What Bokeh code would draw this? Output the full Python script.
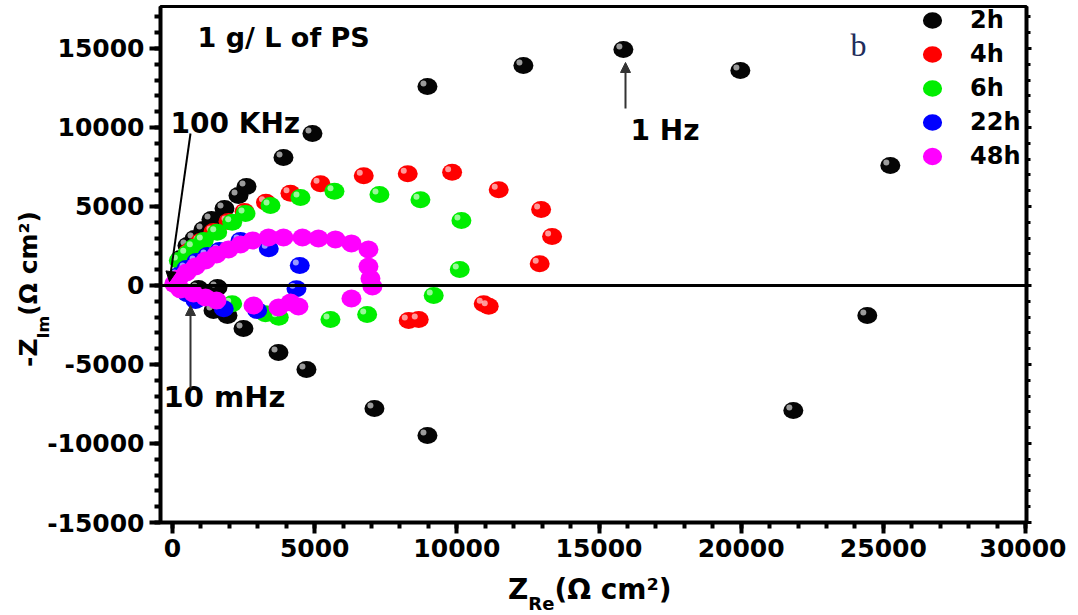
import numpy as np
from bokeh.plotting import figure
from bokeh.layouts import row, column
from bokeh.models import (ColumnDataSource, Span, Label, Arrow, NormalHead, Div,
                          LinearAxis, FixedTicker, Legend, LegendItem, Range1d,
                          NumeralTickFormatter)
from bokeh.transform import dodge
from bokeh.embed import file_html
from bokeh.resources import INLINE

# ---------------- data ----------------
series_names = ["2h", "4h", "6h", "22h", "48h"]
series_colors = ["#050505", "#ff0000", "#00ee00", "#0000ff", "#ff00ff"]

zre_2h = [281, 527, 774, 1090, 1371, 1828, 2321, 2602, 3903, 4922, 8966, 12341,
          15857, 19971, 25245, 24436, 21834, 8966, 7102, 4711, 3727, 2496, 1934,
          1442, 1582, 914]
zim_2h = [1709, 2532, 2975, 3545, 4178, 4874, 5697, 6267, 8102, 9622, 12597, 13926,
          14940, 13610, 7596, -1899, -7913, -9495, -7786, -5317, -4241, -2722, -1899,
          -1583, -127, -190]

zre_4h = [563, 984, 1442, 1969, 2532, 3287, 4149, 5204, 6726, 8273, 9834, 11473,
          12964, 13350, 12914, 11121, 10945, 8660, 8308]
zim_4h = [2152, 2785, 3418, 4051, 4684, 5273, 5843, 6438, 6944, 7071, 7172, 6058,
          4811, 3102, 1374, -1310, -1158, -2152, -2216]

zre_6h = [222, 517, 749, 1100, 1572, 2099, 2567, 3446, 4500, 5696, 7278, 8720,
          10161, 10102, 9187, 6846, 5555, 3738, 3270, 2099]
zim_6h = [1583, 2007, 2424, 2849, 3374, 4007, 4558, 5064, 5570, 5969, 5760, 5425,
          4115, 1013, -633, -1836, -2152, -2007, -1791, -1158]

zre_22h = [211, 492, 844, 1231, 1653, 2391, 3386, 4476, 4360, 2978, 1804, 809, 517]
zim_22h = [633, 1076, 1519, 1899, 2216, 2849, 2323, 1266, -209, -1583, -1475, -950, -525]

zre_48h = [60, 211, 492, 809, 1160, 1547, 1969, 2391, 2813, 3375, 3903, 4571, 5133,
           5731, 6294, 6891, 6891, 6962, 7032, 6294, 4430, 4149, 3727, 2848, 1547,
           1160, 738, 281]
zim_48h = [100, 443, 823, 1203, 1583, 1962, 2279, 2595, 2849, 3038, 3038, 3038, 2975,
           2912, 2659, 2279, 1203, 443, -63, -823, -1329, -1076, -1393, -1266, -950,
           -760, -506, -253]

x_ticks = [0, 5000, 10000, 15000, 20000, 25000, 30000]
y_ticks = [-15000, -10000, -5000, 0, 5000, 10000, 15000]
x_minor = list(range(0, 30001, 1000))
y_minor = list(range(-15000, 17001, 1000))

# annotations (data coordinates)
note_text, note_xy = "1 g/ L of PS", (879, 15696)
panel_letter, panel_xy = "b", (24127, 15190)
hf_text, hf_xy = "100 KHz", (-70, 10253)
hf_arrow = ((633, 9620), (-105, 253))
lf_text, lf_xy = "10 mHz", (-317, -7088)
lf_arrow = ((633, -6519), (633, -1266))
mf_text, mf_xy = "1 Hz", (16108, 9810)
mf_arrow = ((15932, 11203), (15932, 14114))

# axis titles (main text, subscript, unit)
x_title = ("Z", "Re", "(Ω cm²)")
y_title = ("-Z", "Im", "(Ω cm²)")

series = [(zre_2h, zim_2h), (zre_4h, zim_4h), (zre_6h, zim_6h),
          (zre_22h, zim_22h), (zre_48h, zim_48h)]

FONT = "DejaVu Sans"
YDIV_W = 44
BORDER_LEFT = 114
BORDER_BOTTOM = 52
FRAME_W, FRAME_H = 866, 516

# ---------------- figure ----------------
p = figure(frame_width=FRAME_W, frame_height=FRAME_H,
           x_range=Range1d(-422, 30035), y_range=Range1d(-15000, 17658),
           min_border_left=BORDER_LEFT, min_border_top=6, min_border_bottom=BORDER_BOTTOM,
           min_border_right=40, output_backend="svg", toolbar_location=None,
           background_fill_color="white", border_fill_alpha=0)
p.grid.visible = False
p.outline_line_color = "black"
p.outline_line_width = 3

for ax in (p.xaxis[0], p.yaxis[0]):
    ax.axis_line_width = 4
    ax.major_tick_line_width = 4
    ax.minor_tick_line_width = 4
    ax.major_tick_out = 11
    ax.major_tick_in = 0
    ax.minor_tick_out = 6
    ax.minor_tick_in = 0
    ax.major_label_text_font = FONT
    ax.major_label_text_font_style = "bold"
    ax.major_label_text_font_size = "25px"
    ax.major_label_text_color = "black"
    ax.major_label_standoff = 5
    ax.formatter = NumeralTickFormatter(format="0")
p.xaxis[0].ticker = FixedTicker(ticks=x_ticks, minor_ticks=x_minor)
p.yaxis[0].ticker = FixedTicker(ticks=y_ticks, minor_ticks=y_minor)

rax = LinearAxis(ticker=FixedTicker(ticks=y_ticks, minor_ticks=y_minor))
rax.axis_line_width = 4
rax.major_tick_line_width = 3
rax.minor_tick_line_width = 3
rax.major_tick_out = 5
rax.major_tick_in = 0
rax.minor_tick_out = 4
rax.minor_tick_in = 0
rax.major_label_overrides = {t: "" for t in y_ticks}
p.add_layout(rax, "right")

p.add_layout(Span(location=0, dimension="width", line_color="black", line_width=3))

renderers = []
for (xs, ys), name, col in zip(series, series_names, series_colors):
    src = ColumnDataSource(dict(x=xs, y=ys))
    h = 17 if name != "48h" else 18
    r = p.ellipse(x="x", y="y", width=20, height=h, width_units="screen",
                  height_units="screen", source=src, fill_color=col, line_color=None)
    if name != "48h":
        p.circle(x=dodge("x", -140, range=p.x_range), y=dodge("y", 190, range=p.y_range),
                 radius=3, radius_units="screen", source=src,
                 fill_color="white", fill_alpha=0.6, line_color=None)
    renderers.append(r)

legend = Legend(items=[LegendItem(label=n, renderers=[r]) for n, r in zip(series_names, renderers)],
                location="top_right", margin=0, padding=10, spacing=6,
                glyph_width=24, glyph_height=24, label_height=24, label_width=56,
                label_standoff=26, label_text_font=FONT, label_text_font_style="bold",
                label_text_font_size="24px", label_text_color="black",
                border_line_color=None, background_fill_alpha=0)
p.add_layout(legend)

def make_label(text, xy, size, align="left", font=FONT, color="black", style="bold"):
    return Label(x=xy[0], y=xy[1], text=text, text_font=font, text_font_size=size,
                 text_font_style=style, text_color=color, text_align=align,
                 text_baseline="middle")

p.add_layout(make_label(note_text, note_xy, "27px"))
p.add_layout(make_label(panel_letter, panel_xy, "32px", align="center",
                        font="Liberation Serif", color="#1f2d5c", style="normal"))
p.add_layout(make_label(hf_text, hf_xy, "28px"))
p.add_layout(make_label(lf_text, lf_xy, "29px"))
p.add_layout(make_label(mf_text, mf_xy, "28px"))

for (s, e), col in ((hf_arrow, "black"), (lf_arrow, "#333333"), (mf_arrow, "#333333")):
    p.add_layout(Arrow(x_start=s[0], y_start=s[1], x_end=e[0], y_end=e[1],
                       line_color=col, line_width=2,
                       end=NormalHead(size=10, fill_color=col, line_color=col)))

# ---------------- axis titles as HTML text (sub-scripts) ----------------
canvas_h = 6 + FRAME_H + BORDER_BOTTOM
ytxt = (f'<div style="position:relative;width:{YDIV_W}px;height:{canvas_h}px;overflow:visible;">'
        f'<div style="position:absolute;left:28px;top:289px;'
        f'transform:translate(-50%,-50%) rotate(-90deg);white-space:nowrap;'
        f'font-family:\'{FONT}\';font-weight:bold;font-size:25px;line-height:1;color:black;">'
        f'{y_title[0]}<span style="font-size:16px;position:relative;top:12px;">{y_title[1]}</span>'
        f'{y_title[2]}</div></div>')
ydiv = Div(text=ytxt, width=YDIV_W, height=canvas_h, margin=0)

total_w = YDIV_W + BORDER_LEFT + FRAME_W + 42
xtxt = (f'<div style="position:relative;width:{total_w}px;height:36px;">'
        f'<div style="position:absolute;left:508px;top:16px;transform:translateY(-50%);'
        f'white-space:nowrap;font-family:\'{FONT}\';font-weight:bold;font-size:28px;'
        f'line-height:1;color:black;">'
        f'{x_title[0]}<span style="font-size:18px;position:relative;top:11px;">{x_title[1]}</span>'
        f'{x_title[2]}</div></div>')
xdiv = Div(text=xtxt, width=total_w, height=36, margin=0)

layout = column(row(ydiv, p, spacing=0), xdiv, spacing=0)

open("out.html", "w").write(file_html(layout, INLINE))
